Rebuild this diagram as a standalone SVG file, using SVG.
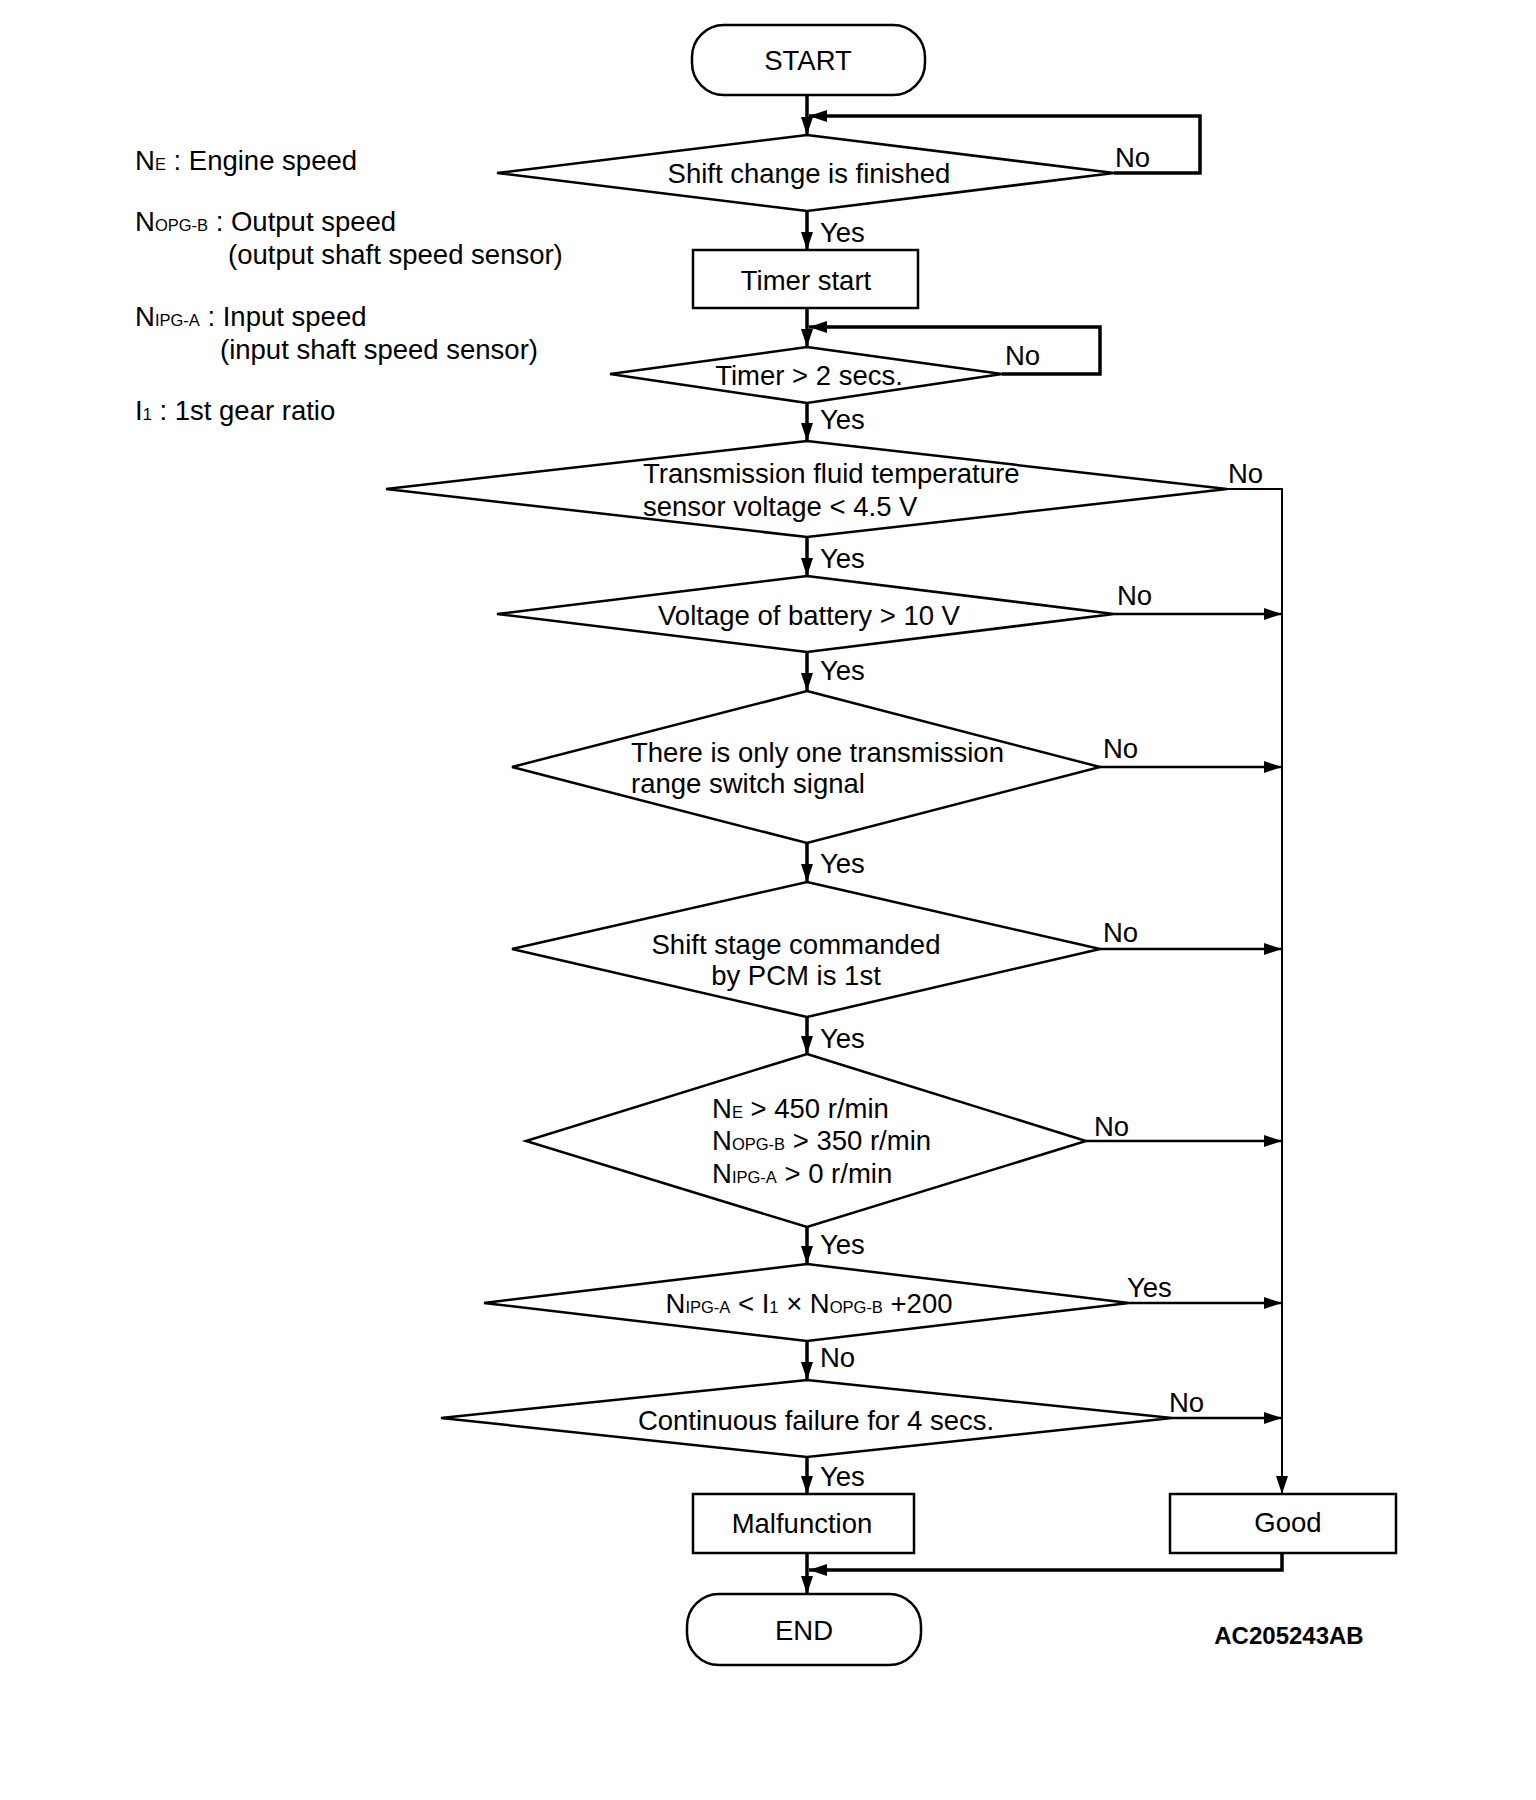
<svg xmlns="http://www.w3.org/2000/svg" width="1536" height="1800" viewBox="0 0 1536 1800">
<style>
text{font-family:"Liberation Sans",Arial,sans-serif;font-size:27.5px;fill:#000}
.c{text-anchor:middle}
.s{font-size:16.5px}
.shape{fill:#fff;stroke:#000;stroke-width:2.5}
.main{fill:none;stroke:#000;stroke-width:3.5}
.side{fill:none;stroke:#000;stroke-width:2.5}
.bus{fill:none;stroke:#000;stroke-width:2}
.b{font-weight:bold;font-size:24px}
</style>
<defs>
<marker id="ah" viewBox="0 0 18 12" refX="18" refY="6" markerWidth="18" markerHeight="12" markerUnits="userSpaceOnUse" orient="auto">
<path d="M0,0 L18,6 L0,12 Z" fill="#000"/>
</marker>
</defs>
<rect width="1536" height="1800" fill="#fff"/>

<g id="legend">
<text x="135" y="170">N<tspan class="s">E</tspan> : Engine speed</text>
<text x="135" y="231">N<tspan class="s">OPG-B</tspan> : Output speed</text>
<text x="228" y="264">(output shaft speed sensor)</text>
<text x="135" y="326">N<tspan class="s">IPG-A</tspan> : Input speed</text>
<text x="220" y="359">(input shaft speed sensor)</text>
<text x="135" y="420">I<tspan class="s">1</tspan> : 1st gear ratio</text>
</g>

<g id="connectors">
<path class="main" d="M807,95 V135" marker-end="url(#ah)"/>
<path class="main" d="M1114,173 H1200 V116 H809" marker-end="url(#ah)"/>
<path class="main" d="M807,211 V250" marker-end="url(#ah)"/>
<path class="main" d="M807,308 V347" marker-end="url(#ah)"/>
<path class="main" d="M1002,374 H1100 V327 H809" marker-end="url(#ah)"/>
<path class="main" d="M807,403 V441" marker-end="url(#ah)"/>
<path class="main" d="M807,537 V576" marker-end="url(#ah)"/>
<path class="main" d="M807,652 V691" marker-end="url(#ah)"/>
<path class="main" d="M807,843 V882" marker-end="url(#ah)"/>
<path class="main" d="M807,1017 V1054" marker-end="url(#ah)"/>
<path class="main" d="M807,1227 V1264" marker-end="url(#ah)"/>
<path class="main" d="M807,1341 V1380" marker-end="url(#ah)"/>
<path class="main" d="M807,1457 V1494" marker-end="url(#ah)"/>
<path class="main" d="M807,1553 V1594" marker-end="url(#ah)"/>
<path class="bus" d="M1227,489 H1282 V1494" marker-end="url(#ah)"/>
<path class="side" d="M1114,614 H1282" marker-end="url(#ah)"/>
<path class="side" d="M1100,767 H1282" marker-end="url(#ah)"/>
<path class="side" d="M1100,949 H1282" marker-end="url(#ah)"/>
<path class="side" d="M1086,1141 H1282" marker-end="url(#ah)"/>
<path class="side" d="M1129,1303 H1282" marker-end="url(#ah)"/>
<path class="side" d="M1172,1418 H1282" marker-end="url(#ah)"/>
<path class="main" d="M1282,1553 V1570 H809" marker-end="url(#ah)"/>
<text x="1115" y="167">No</text>
<text x="820" y="242">Yes</text>
<text x="1005" y="365">No</text>
<text x="820" y="429">Yes</text>
<text x="1228" y="483">No</text>
<text x="820" y="568">Yes</text>
<text x="1117" y="605">No</text>
<text x="820" y="680">Yes</text>
<text x="1103" y="758">No</text>
<text x="820" y="873">Yes</text>
<text x="1103" y="942">No</text>
<text x="820" y="1048">Yes</text>
<text x="1094" y="1136">No</text>
<text x="820" y="1254">Yes</text>
<text x="1127" y="1297">Yes</text>
<text x="820" y="1367">No</text>
<text x="1169" y="1412">No</text>
<text x="820" y="1486">Yes</text>
</g>

<g id="start">
<rect class="shape" x="692" y="25" width="233" height="70" rx="32" ry="32"/>
<text class="c" x="808" y="70">START</text>
</g>

<g id="d1">
<polygon class="shape" points="807,135 1114,173 807,211 497,173"/>
<text class="c" x="809" y="183">Shift change is finished</text>
</g>

<g id="timerstart">
<rect class="shape" x="693" y="250" width="225" height="58"/>
<text class="c" x="806" y="290">Timer start</text>
</g>

<g id="d2">
<polygon class="shape" points="807,347 1002,374 807,403 610,374"/>
<text class="c" x="809" y="385">Timer &gt; 2 secs.</text>
</g>

<g id="d3">
<polygon class="shape" points="807,441 1227,489 807,537 386,489"/>
<text x="643" y="483">Transmission fluid temperature</text>
<text x="643" y="516">sensor voltage &lt; 4.5 V</text>
</g>

<g id="d4">
<polygon class="shape" points="807,576 1114,614 807,652 497,614"/>
<text class="c" x="809" y="625">Voltage of battery &gt; 10 V</text>
</g>

<g id="d5">
<polygon class="shape" points="807,691 1100,767 807,843 512,767"/>
<text x="631" y="762">There is only one transmission</text>
<text x="631" y="793">range switch signal</text>
</g>

<g id="d6">
<polygon class="shape" points="807,882 1100,949 807,1017 512,949"/>
<text class="c" x="796" y="954">Shift stage commanded</text>
<text class="c" x="796" y="985">by PCM is 1st</text>
</g>

<g id="d7">
<polygon class="shape" points="807,1054 1086,1141 807,1227 526,1141"/>
<text x="712" y="1118">N<tspan class="s">E</tspan> &gt; 450 r/min</text>
<text x="712" y="1150">N<tspan class="s">OPG-B</tspan> &gt; 350 r/min</text>
<text x="712" y="1183">N<tspan class="s">IPG-A</tspan> &gt; 0 r/min</text>
</g>

<g id="d8">
<polygon class="shape" points="807,1264 1129,1303 807,1341 484,1303"/>
<text class="c" x="809" y="1313">N<tspan class="s">IPG-A</tspan> &lt; I<tspan class="s">1</tspan> × N<tspan class="s">OPG-B</tspan> +200</text>
</g>

<g id="d9">
<polygon class="shape" points="807,1380 1172,1418 807,1457 441,1418"/>
<text class="c" x="816" y="1430">Continuous failure for 4 secs.</text>
</g>

<g id="malfunction">
<rect class="shape" x="693" y="1494" width="221" height="59"/>
<text class="c" x="802" y="1533">Malfunction</text>
</g>

<g id="good">
<rect class="shape" x="1170" y="1494" width="226" height="59"/>
<text class="c" x="1288" y="1532">Good</text>
</g>

<g id="end">
<rect class="shape" x="687" y="1594" width="234" height="71" rx="32" ry="32"/>
<text class="c" x="804" y="1640">END</text>
</g>

<text class="c b" x="1289" y="1644">AC205243AB</text>
</svg>
